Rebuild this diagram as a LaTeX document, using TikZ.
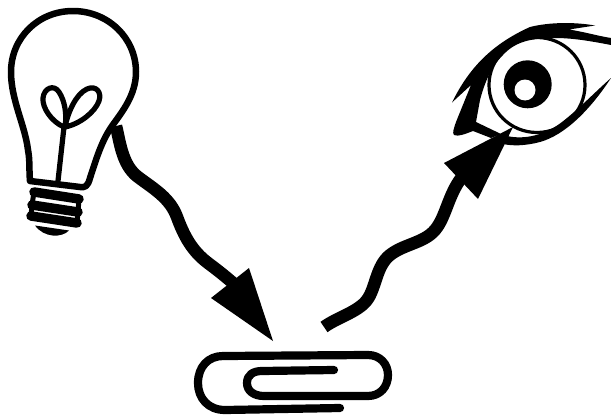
\documentclass[tikz,border=0pt]{standalone}
\tikzset{
  ink/.style={draw=black,line width=#1,line cap=round,line join=round},
  ink/.default=6pt,
  wave/.style={draw=black,line width=12.5pt,line cap=butt,line join=round},
  tip/.style={fill=black,draw=none}
}
\begin{document}
\begin{tikzpicture}[x=1pt,y=-1pt]
\useasboundingbox (0,0) rectangle (611,415);
\fill[white] (0,0) rectangle (611,415);
% bulb glass
\draw[ink=6.5pt] (30,181) .. controls (29,170) and (30,160) .. (28,150)
  .. controls (25,125) and (11,100) .. (11,72)
  .. controls (11,38) and (38,11) .. (73,11)
  .. controls (108,11) and (136,38) .. (136,72)
  .. controls (136,95) and (122,112) .. (112,126)
  .. controls (101,142) and (96,160) .. (90,178)
  .. controls (88,186) and (85,188) .. (80,187)
  -- cycle;
% filament
\draw[ink=5.2pt] (58,181) -- (64,127);
\draw[ink=5.2pt] (64,127) .. controls (52,122) and (42,108) .. (43,98)
  .. controls (44,88) and (54,84) .. (59,92)
  .. controls (65,101) and (67,115) .. (65,127);
\draw[ink=5.2pt] (65,127) .. controls (68,112) and (76,94) .. (87,89)
  .. controls (96,85) and (102,92) .. (99,101)
  .. controls (95,112) and (80,124) .. (65,127);
% screw base
\draw[ink=9.5pt] (34,192) -- (79,199) (32,205) -- (78,212) (31,216) -- (77,223);
\draw[ink=5pt] (34,192) -- (32,205) -- (31,216) (79,199) -- (78,212) -- (77,223);
\fill[black] (35,225.5) -- (69,230.5) .. controls (62,238) and (44,238) .. (35,225.5) -- cycle;
% first wave and head
\draw[wave] (116,126) .. controls (120,142) and (122,165) .. (138,177)
  .. controls (154,189) and (170,198) .. (177,217)
  .. controls (184,236) and (192,251) .. (208,263)
  .. controls (220,272) and (226,277) .. (233,283);
\fill[tip] (249,268) -- (273,341) -- (211,298) -- cycle;
% second wave and head
\draw[wave] (324,327) .. controls (338,317) and (358,312) .. (367,300)
  .. controls (376,288) and (376,266) .. (390,255)
  .. controls (404,244) and (424,243) .. (435,230)
  .. controls (446,217) and (448,195) .. (462,177);
\fill[tip] (444,163) -- (513,127) -- (478,199) -- cycle;
% eye
\draw[ink=3.2pt] (537,85) ellipse (48 and 47.5);
\fill[black] (527.7,84.3) circle (24);
\fill[white] (525,90) circle (10.5);
\fill[black] (452,102.5)
  .. controls (468,70) and (490,45) .. (530,27)
  .. controls (550,22) and (575,22) .. (595,25.5)
  -- (569,29.5)
  .. controls (585,32) and (598,36) .. (611,38)
  -- (611,45)
  .. controls (595,42) and (575,38) .. (555,38)
  .. controls (530,38) and (515,42) .. (503,55)
  .. controls (490,68) and (484,85) .. (480,100)
  -- (476,122)
  -- (501,134) -- (491,138)
  -- (473,131)
  .. controls (465,134) and (458,137) .. (454,135)
  .. controls (452,133) and (454,128) .. (456,122)
  -- (471,85)
  -- cycle;
\fill[black] (611,78)
  .. controls (590,110) and (565,135) .. (540,142)
  .. controls (525,146) and (512,146) .. (503,144)
  -- (507,136)
  .. controls (525,140) and (545,135) .. (562,122)
  .. controls (580,108) and (595,92) .. (611,78) -- cycle;
% paper clip
\draw[ink=8.2pt] (340,408) -- (225,410)
  .. controls (208,410) and (198,398) .. (198,383)
  .. controls (198,367) and (208,356) .. (223,356)
  -- (368,355)
  .. controls (380,355) and (388,364) .. (388,375)
  .. controls (388,387) and (380,396) .. (368,396)
  -- (264,396)
  .. controls (254,396) and (247,391) .. (247,383)
  .. controls (247,375) and (253,371) .. (262,371)
  -- (334,370);
\end{tikzpicture}
\end{document}
